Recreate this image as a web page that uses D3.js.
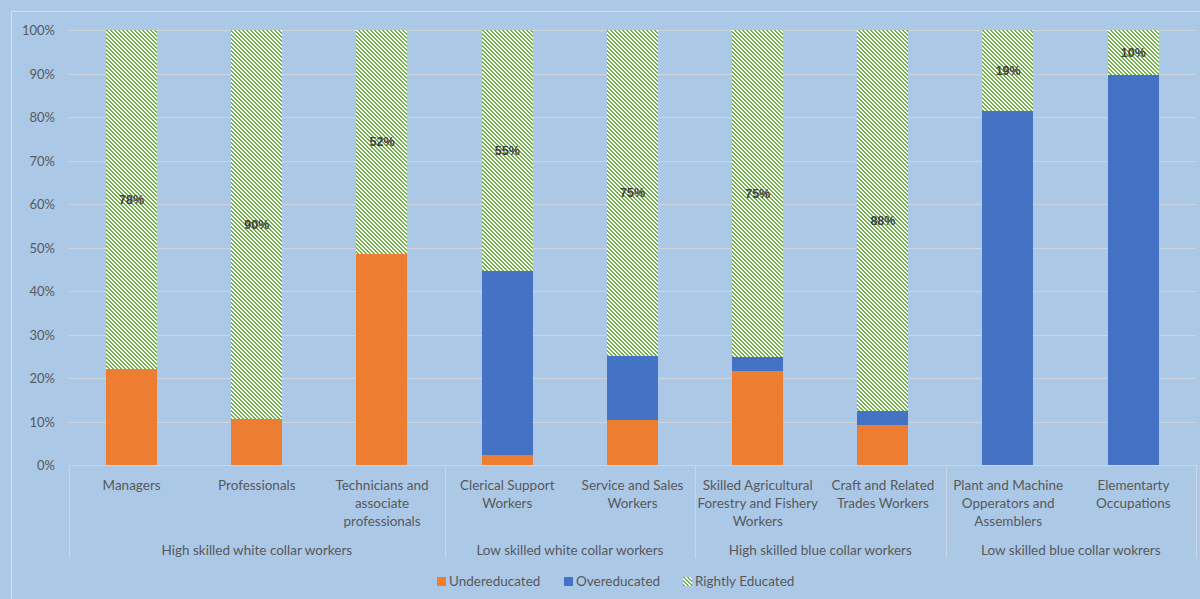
<!DOCTYPE html>
<html><head><meta charset="utf-8">
<script src="https://cdn.jsdelivr.net/npm/d3@7/dist/d3.min.js"></script>
<style>
html,body{margin:0;padding:0;background:#abc8e7;}
svg{display:block;font-family:Lato,"Liberation Sans",sans-serif;}
</style></head><body>
<svg id="chart" width="1200" height="599"></svg>
<script>
const categories = [
  ["Managers"],
  ["Professionals"],
  ["Technicians and","associate","professionals"],
  ["Clerical Support","Workers"],
  ["Service and Sales","Workers"],
  ["Skilled Agricultural","Forestry and Fishery","Workers"],
  ["Craft and Related","Trades Workers"],
  ["Plant and Machine","Opperators and","Assemblers"],
  ["Elementarty","Occupations"]
];
const groups = [
  {name:"High skilled white collar workers", start:0, end:3},
  {name:"Low skilled white collar workers", start:3, end:5},
  {name:"High skilled blue collar workers", start:5, end:7},
  {name:"Low skilled blue collar wokrers", start:7, end:9}
];
const undereducated = [22.0, 10.5, 48.5, 2.3, 10.3, 21.6, 9.2, 0, 0];
const overeducated  = [0, 0, 0, 42.4, 14.8, 3.2, 3.2, 81.4, 89.6];
const rightly       = [78.0, 89.5, 51.5, 55.3, 74.9, 75.2, 87.6, 18.6, 10.4];
const rightlyLabels = ["78%","90%","52%","55%","75%","75%","88%","19%","10%"];
const yTicks = [0,10,20,30,40,50,60,70,80,90,100];
const seriesNames = ["Undereducated","Overeducated","Rightly Educated"];

(function(){
const svg = d3.select("#chart");
const W = 1200, H = 599;
const mLeft = 69, mRight = 1196, mTop = 30, mBottom = 465;

// outer chart border
svg.append("rect").attr("x",11.5).attr("y",11.5).attr("width",W).attr("height",H)
  .attr("fill","none").attr("stroke","#d5dde8").attr("stroke-width",1);

// hatch pattern
const defs = svg.append("defs");
const pat = defs.append("pattern").attr("id","hatch").attr("patternUnits","userSpaceOnUse")
  .attr("width",4).attr("height",4);
pat.append("rect").attr("width",4).attr("height",4).attr("fill","#ffffff").attr("shape-rendering","crispEdges");
for (let yy=0;yy<4;yy++) for (let xx=0;xx<4;xx++) {
  if ((((xx - yy) % 4) + 4) % 4 < 2) pat.append("rect").attr("x",xx).attr("y",yy).attr("width",1).attr("height",1)
    .attr("fill","#72b04a").attr("shape-rendering","crispEdges");
}

const x = d3.scaleBand().domain(d3.range(categories.length)).range([mLeft,mRight]).paddingInner(0.59).paddingOuter(0.295);
const y = d3.scaleLinear().domain([0,100]).range([mBottom,mTop]);

// gridlines
svg.append("g").selectAll("line").data(yTicks.filter(d=>d>0)).join("line")
  .attr("x1",mLeft).attr("x2",mRight)
  .attr("y1",d=>Math.round(y(d))+0.5).attr("y2",d=>Math.round(y(d))+0.5)
  .attr("stroke","#d0d6de").attr("stroke-width",1);

// y axis labels
const yAxis = d3.axisLeft(y).tickValues(yTicks).tickFormat(d=>d+"%").tickSize(0).tickPadding(0);
const yg = svg.append("g").attr("transform",`translate(${mLeft-14},0)`).call(yAxis);
yg.select(".domain").remove();
yg.selectAll("text").attr("fill","#595959").attr("font-size","13px").attr("font-family","Lato,'Liberation Sans',sans-serif").attr("dy","0.35em");

// stacked bars
const stackData = categories.map((c,i)=>({i, Undereducated:undereducated[i], Overeducated:overeducated[i], "Rightly Educated":rightly[i]}));
const stack = d3.stack().keys(seriesNames)(stackData);
const fills = {"Undereducated":"#ed7d31","Overeducated":"#4472c4","Rightly Educated":"url(#hatch)"};
svg.append("g").selectAll("g").data(stack).join("g")
  .attr("fill",s=>fills[s.key])
  .selectAll("rect").data(s=>s).join("rect")
  .attr("x",d=>Math.round(x(d.data.i))).attr("width",Math.round(x.bandwidth()))
  .attr("y",d=>y(d[1])).attr("height",d=>Math.max(0,y(d[0])-y(d[1])))
  .attr("shape-rendering","crispEdges");

// data labels (rightly educated)
const rs = stack[2];
svg.append("g").selectAll("text").data(rs).join("text")
  .attr("x",d=>x(d.data.i)+x.bandwidth()/2)
  .attr("y",d=>y((d[0]+d[1])/2))
  .attr("dy","0.35em").attr("text-anchor","middle")
  .attr("font-family","'Liberation Sans',sans-serif")
  .attr("font-size","12.5px").attr("font-weight","700").attr("fill","#404040")
  .text((d,i)=>rightlyLabels[i]);

// x axis line
svg.append("line").attr("x1",mLeft).attr("x2",mRight).attr("y1",mBottom+0.5).attr("y2",mBottom+0.5)
  .attr("stroke","#d0d6de");

// separators
const sepX = [0].concat(groups.map(g=>g.end));
const sepPos = d => d===categories.length ? mRight : x(d)-x.step()*x.paddingInner()/2;
svg.append("g").selectAll("line").data(sepX).join("line")
  .attr("x1",d=>Math.round(sepPos(d))+0.5)
  .attr("x2",d=>Math.round(sepPos(d))+0.5)
  .attr("y1",mBottom).attr("y2",558)
  .attr("stroke","#d0d6de");

// category labels
const cg = svg.append("g");
categories.forEach((lines,i)=>{
  const cx = x(i)+x.bandwidth()/2;
  const t = cg.append("text").attr("text-anchor","middle").attr("fill","#595959").attr("font-size","13.5px");
  lines.forEach((ln,k)=>t.append("tspan").attr("x",cx).attr("y",490+k*18).text(ln));
});

// group labels
svg.append("g").selectAll("text").data(groups).join("text")
  .attr("x",g=>(x(g.start)+x(g.end-1)+x.bandwidth())/2)
  .attr("y",555).attr("text-anchor","middle").attr("fill","#595959").attr("font-size","13.5px")
  .text(g=>g.name);

// legend
const legendItems = [
  {name:"Undereducated", fill:"#ed7d31", x:437},
  {name:"Overeducated", fill:"#4472c4", x:564},
  {name:"Rightly Educated", fill:"url(#hatch)", x:683}
];
const lg = svg.append("g").selectAll("g").data(legendItems).join("g")
  .attr("transform",d=>`translate(${d.x},577)`);
lg.append("rect").attr("width",9).attr("height",9).attr("fill",d=>d.fill).attr("shape-rendering","crispEdges");
lg.append("text").attr("x",12).attr("y",4.5).attr("dy","0.35em").attr("fill","#595959")
  .attr("font-size","13.5px").text(d=>d.name);
})();
</script>
</body></html>
